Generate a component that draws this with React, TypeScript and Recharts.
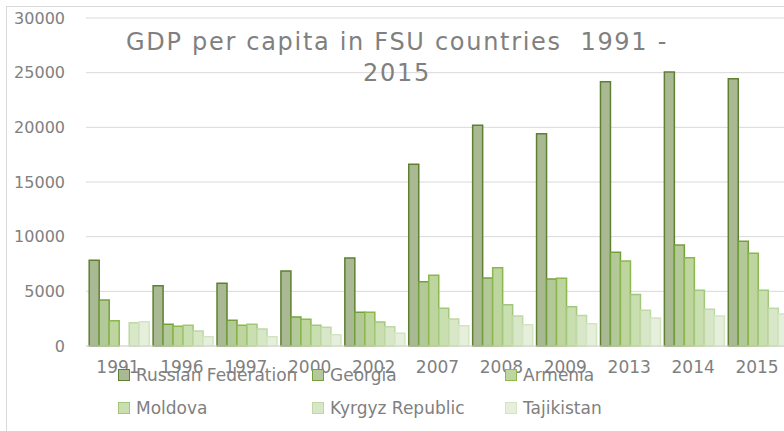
import { BarChart, Bar, XAxis, YAxis, CartesianGrid } from "recharts"

const YEARS = ["1991", "1996", "1997", "2000", "2002", "2007", "2008", "2009", "2013", "2014", "2015"]

const RUSSIA = [7850, 5520, 5730, 6860, 8050, 16620, 20180, 19420, 24180, 25060, 24450]
const GEORGIA = [4200, 1990, 2350, 2650, 3080, 5880, 6220, 6130, 8570, 9240, 9580]
const ARMENIA = [2320, 1800, 1890, 2440, 3080, 6460, 7160, 6190, 7780, 8080, 8480]
const MOLDOVA = [0, 1890, 1980, 1890, 2200, 3450, 3780, 3600, 4700, 5090, 5090]
const KYRGYZ = [2130, 1370, 1550, 1710, 1770, 2470, 2750, 2800, 3270, 3360, 3450]
const TAJIK = [2220, 850, 850, 1040, 1170, 1860, 1950, 2040, 2560, 2750, 2930]

const Y_TICKS = [0, 5000, 10000, 15000, 20000, 25000, 30000]

const SERIES = [
  { key: "russia", name: "Russian Federation", fill: "#a8b994", stroke: "#5e8030" },
  { key: "georgia", name: "Georgia", fill: "#b4c999", stroke: "#74a03c" },
  { key: "armenia", name: "Armenia", fill: "#bed59f", stroke: "#8ab84d" },
  { key: "moldova", name: "Moldova", fill: "#c9dfb0", stroke: "#a2c77a" },
  { key: "kyrgyz", name: "Kyrgyz Republic", fill: "#d8e7c8", stroke: "#bfd8a5" },
  { key: "tajik", name: "Tajikistan", fill: "#e6efdc", stroke: "#d3e4c3" },
]

const data = YEARS.map((year, i) => ({
  year,
  russia: RUSSIA[i],
  georgia: GEORGIA[i],
  armenia: ARMENIA[i],
  moldova: MOLDOVA[i] || null,
  kyrgyz: KYRGYZ[i],
  tajik: TAJIK[i],
}))

const FONT = "'DejaVu Sans', sans-serif"
const GRAY = "#808080"

// legend item positions (column x, row y)
const LEGEND_COLS = [118, 312, 505]
const LEGEND_ROWS = [375, 408]

export default function App() {
  return (
    <div style={{ position: "absolute", left: 0, top: 0, width: 784, height: 431, overflow: "hidden", background: "#fff" }}>
      <div style={{ position: "absolute", left: 6, top: 6, width: 800, height: 440, borderLeft: "1.5px solid #d9d9d9", borderTop: "1.5px solid #d9d9d9" }} />
      <div style={{ position: "absolute", left: 0, top: 0 }}>
        <BarChart
          width={795}
          height={431}
          data={data}
          margin={{ top: 18, right: 6, left: 6, bottom: 55 }}
          barCategoryGap="5%"
          barGap={0}
        >
          <CartesianGrid vertical={false} stroke="#d9d9d9" />
          <XAxis
            dataKey="year"
            axisLine={{ stroke: "#d9d9d9" }}
            tickLine={false}
            tickMargin={9}
            tick={{ fill: GRAY, fontSize: 17, fontFamily: FONT }}
            interval={0}
          />
          <YAxis
            width={80}
            domain={[0, 30000]}
            ticks={Y_TICKS}
            axisLine={false}
            tickLine={false}
            tickMargin={15}
            tick={{ fill: GRAY, fontSize: 16, fontFamily: FONT }}
          />
          {SERIES.map((s) => (
            <Bar key={s.key} dataKey={s.key} name={s.name} fill={s.fill} stroke={s.stroke} strokeWidth={1.5} isAnimationActive={false} />
          ))}
        </BarChart>
      </div>
      <div style={{ position: "absolute", left: 0, top: 27, width: 794, textAlign: "center", fontFamily: FONT, fontSize: 24, letterSpacing: 1.7, color: GRAY, lineHeight: "31px" }}>
        GDP per capita in FSU countries&nbsp; 1991 -<br />2015
      </div>
      {SERIES.map((s, i) => (
        <div
          key={s.key}
          style={{
            position: "absolute",
            left: LEGEND_COLS[i % 3],
            top: LEGEND_ROWS[Math.floor(i / 3)] - 10,
            display: "flex",
            alignItems: "center",
            fontFamily: FONT,
            fontSize: 17,
            color: GRAY,
            lineHeight: "20px",
            whiteSpace: "nowrap",
          }}
        >
          <span style={{ display: "inline-block", width: 10, height: 10, background: s.fill, border: `1.5px solid ${s.stroke}`, marginRight: 6 }} />
          {s.name}
        </div>
      ))}
    </div>
  )
}
